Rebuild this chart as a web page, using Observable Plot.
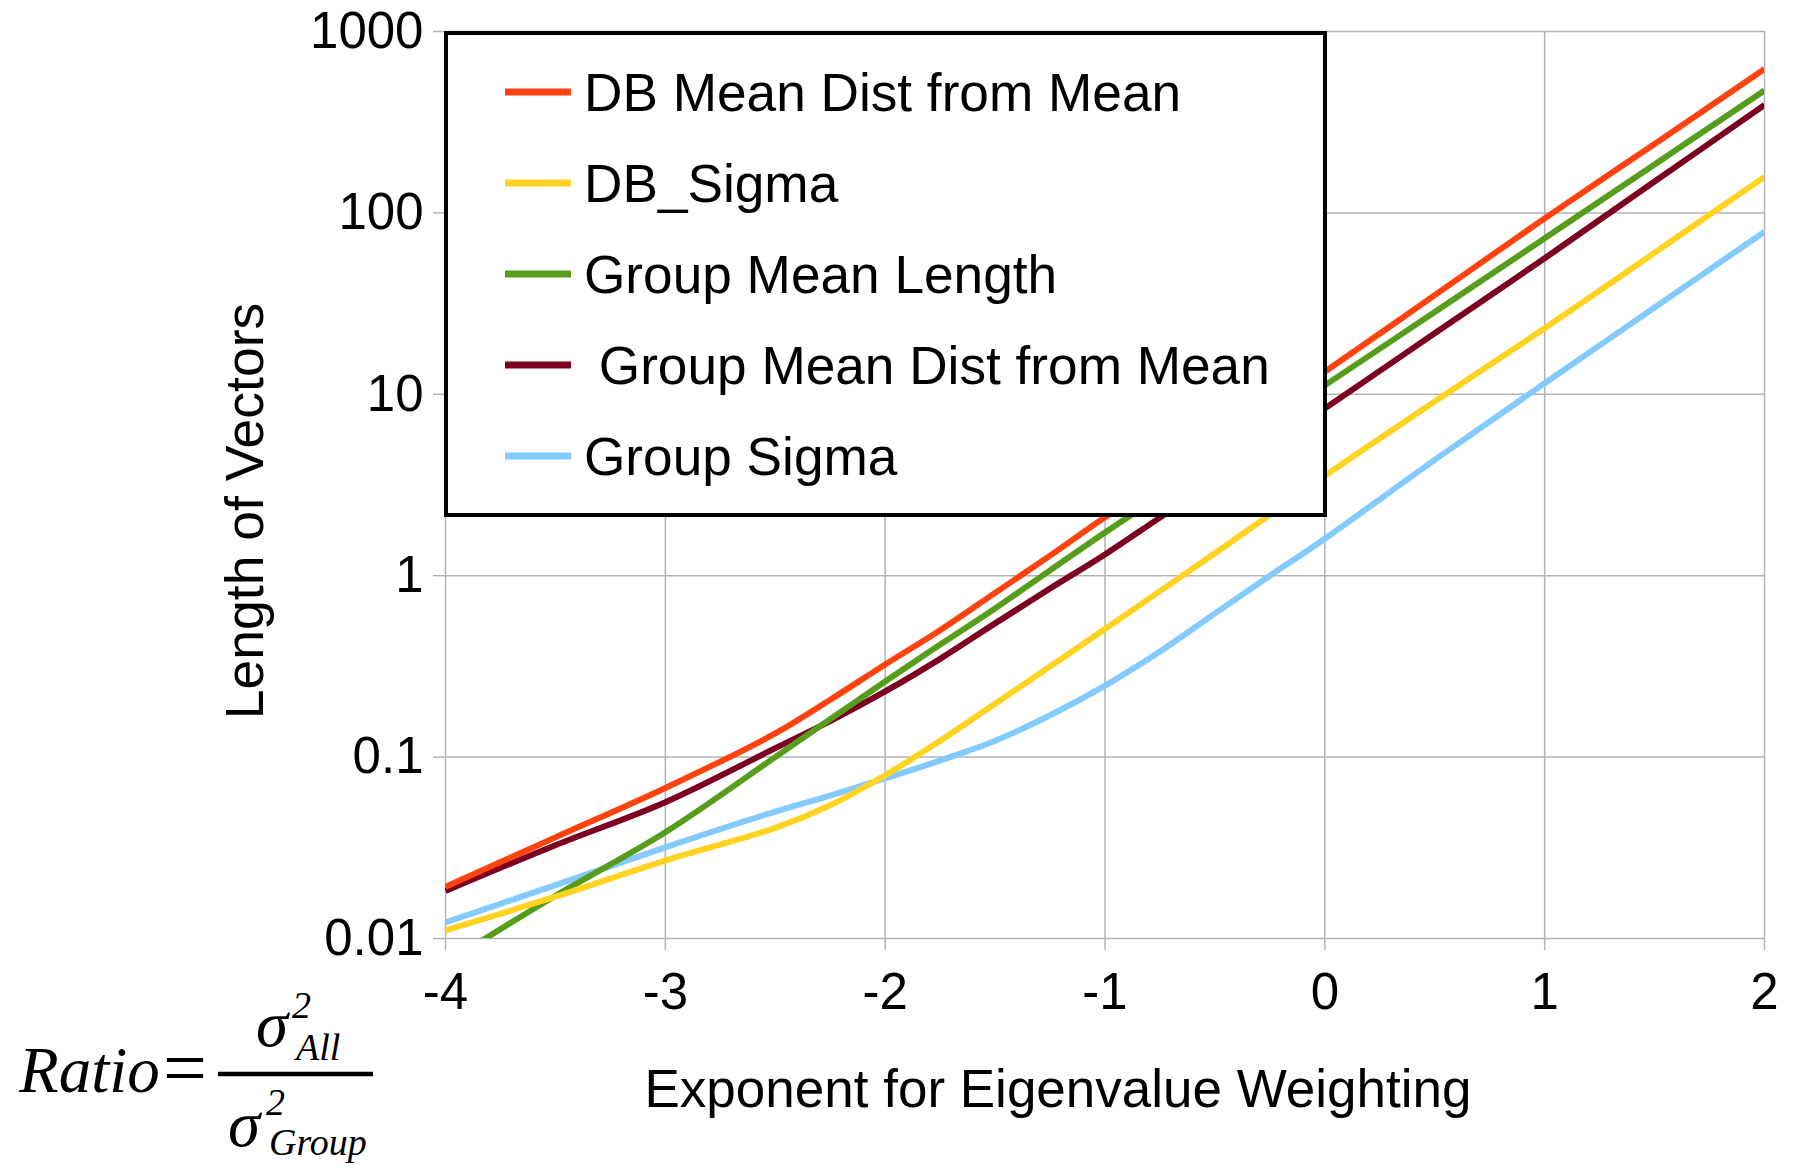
<!DOCTYPE html>
<html>
<head>
<meta charset="utf-8">
<script src="https://cdn.jsdelivr.net/npm/d3@7"></script>
<script src="https://cdn.jsdelivr.net/npm/@observablehq/plot@0.6"></script>
<style>
  html, body { margin: 0; padding: 0; background: #fff; }
  #wrap { position: relative; width: 1793px; height: 1171px; overflow: hidden; }
  #overlay { position: absolute; left: 0; top: 0; pointer-events: none; }
</style>
</head>
<body>
<div id="wrap"></div>
<script>
// ---- data ----
const xs = [-4, -3.5, -3, -2.5, -2.25, -2, -1.75, -1.5, -1.25, -1, -0.75, -0.5, -0.25, 0, 0.5, 1, 1.5, 2];
const dbMeanDist      = [0.0193, 0.0361, 0.0676, 0.135, 0.207, 0.324, 0.501, 0.804, 1.29, 2.10, 3.31, 5.25, 8.3, 13.3, 35.2, 93.3, 240, 621];
const dbSigma         = [0.0111, 0.0170, 0.0269, 0.0407, 0.0543, 0.0794, 0.123, 0.197, 0.316, 0.509, 0.822, 1.33, 2.17, 3.55, 9.12, 23.1, 60.3, 158];
const groupMeanLength = [0.0073, 0.0172, 0.0385, 0.100, 0.162, 0.261, 0.417, 0.66, 1.07, 1.73, 2.75, 4.37, 7.0, 11.2, 28.4, 72.4, 185, 473];
const groupMeanDist   = [0.0183, 0.0327, 0.0564, 0.112, 0.158, 0.230, 0.348, 0.546, 0.85, 1.31, 2.09, 3.31, 5.25, 8.35, 21.7, 56.2, 149, 393];
const groupSigma      = [0.01225, 0.0197, 0.0318, 0.050, 0.0614, 0.0764, 0.0957, 0.123, 0.170, 0.248, 0.382, 0.62, 1.0, 1.60, 4.35, 11.5, 30.1, 78.8];

const seriesNames  = ["DB Mean Dist from Mean", "DB_Sigma", "Group Mean Length", " Group Mean Dist from Mean", "Group Sigma"];
const seriesValues = [dbMeanDist, dbSigma, groupMeanLength, groupMeanDist, groupSigma];
const seriesColors = ["#ff420e", "#ffd320", "#579d1c", "#7e0021", "#83caff"];

const xTicks = [-4, -3, -2, -1, 0, 1, 2];
const yTicks = [0.01, 0.1, 1, 10, 100, 1000];
const xLabel = "Exponent for Eigenvalue Weighting";
const yLabel = "Length of Vectors";

// ---- build table ----
const rows = [];
seriesNames.forEach((name, i) => {
  xs.forEach((x, j) => rows.push({series: name, idx: i, x, y: seriesValues[i][j]}));
});

const gridColor = "#b3b3b3";

// draw last series first so the first series ends on top
const lineMarks = seriesNames.map((name, i) => i).reverse().map(i =>
  Plot.line(rows.filter(r => r.idx === i), {
    x: "x", y: "y", stroke: seriesColors[i], strokeWidth: 6,
    curve: "catmull-rom", clip: true, strokeLinecap: "butt"
  })
);

const plot = Plot.plot({
  width: 1793,
  height: 1171,
  marginLeft: 445,
  marginRight: 29,
  marginTop: 31,
  marginBottom: 233,
  style: {fontFamily: "'Liberation Sans', Arial, sans-serif", background: "white", color: "black", overflow: "visible"},
  x: {domain: [-4, 2]},
  y: {type: "log", domain: [0.01, 1000]},
  marks: [
    Plot.gridX({ticks: xTicks, stroke: gridColor, strokeOpacity: 1, strokeWidth: 1.5}),
    Plot.gridY({ticks: yTicks, stroke: gridColor, strokeOpacity: 1, strokeWidth: 1.5}),
    Plot.axisX({ticks: xTicks, tickSize: 12, tickPadding: 22, fontSize: 51, stroke: gridColor, strokeWidth: 1.5,
                tickFormat: d => String(d), label: null}),
    Plot.axisY({ticks: yTicks, tickSize: 12, tickPadding: 10, fontSize: 51, stroke: gridColor, strokeWidth: 1.5,
                tickFormat: d => String(d), label: null}),
    ...lineMarks,
    Plot.text([yLabel], {text: d => d, frameAnchor: "left", rotate: -90, dx: -200, dy: 26,
                         fontSize: 53.5, textAnchor: "middle", lineAnchor: "middle", fill: "black"}),
    Plot.text([xLabel], {text: d => d, frameAnchor: "bottom", dx: -47, dy: 152,
                         fontSize: 53, textAnchor: "middle", lineAnchor: "middle", fill: "black"})
  ]
});

const wrap = document.getElementById("wrap");
wrap.appendChild(plot);

// ---- overlay: legend box + formula ----
const svg = d3.select(wrap).append("svg")
  .attr("id", "overlay")
  .attr("width", 1793).attr("height", 1171);

const lg = svg.append("g").attr("font-family", "'Liberation Sans', Arial, sans-serif");
lg.append("rect")
  .attr("x", 446).attr("y", 33).attr("width", 879).attr("height", 482)
  .attr("fill", "white").attr("stroke", "black").attr("stroke-width", 4);

seriesNames.forEach((name, i) => {
  const cy = 92 + i * 91;
  lg.append("line")
    .attr("x1", 505).attr("x2", 571).attr("y1", cy).attr("y2", cy)
    .attr("stroke", seriesColors[i]).attr("stroke-width", 7);
  lg.append("text")
    .attr("x", 584).attr("y", cy + 19)
    .attr("font-size", 53.2).attr("fill", "black")
    .style("white-space", "pre")
    .text(name);
});

const fg = svg.append("g").attr("font-family", "'Liberation Serif', 'DejaVu Serif', serif")
  .attr("font-style", "italic").attr("fill", "black");
fg.append("text").attr("x", 19).attr("y", 1092).attr("font-size", 65).text("Ratio");
fg.append("text").attr("x", 163).attr("y", 1094).attr("font-size", 78).attr("font-style", "normal").text("=");
fg.append("line").attr("x1", 218).attr("x2", 373).attr("y1", 1074).attr("y2", 1074)
  .attr("stroke", "black").attr("stroke-width", 4.5);
fg.append("text").attr("x", 256).attr("y", 1046).attr("font-size", 65).text("σ");
fg.append("text").attr("x", 292).attr("y", 1018).attr("font-size", 38).text("2");
fg.append("text").attr("x", 296).attr("y", 1060).attr("font-size", 38).text("All");
fg.append("text").attr("x", 228).attr("y", 1146).attr("font-size", 65).text("σ");
fg.append("text").attr("x", 266).attr("y", 1115).attr("font-size", 38).text("2");
fg.append("text").attr("x", 269).attr("y", 1155).attr("font-size", 38).text("Group");
</script>
</body>
</html>
